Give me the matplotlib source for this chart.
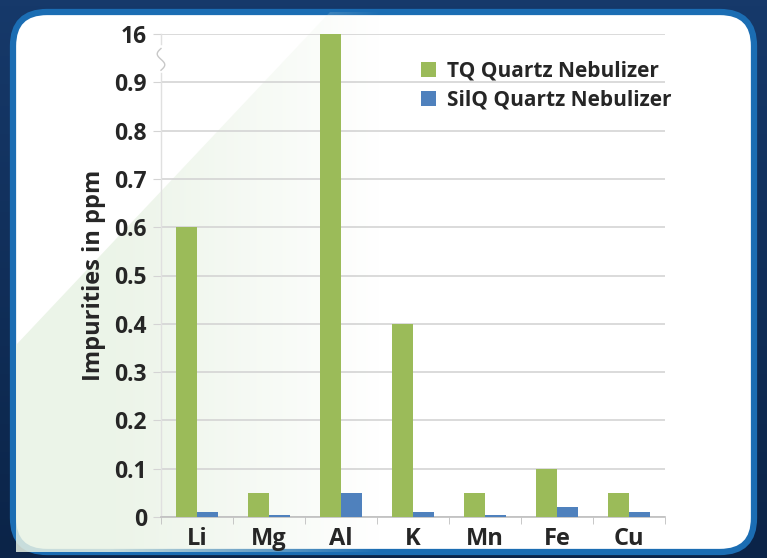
import numpy as np
import matplotlib
matplotlib.use("Agg")
import matplotlib.pyplot as plt
from matplotlib.patches import FancyBboxPatch, Polygon
from matplotlib.transforms import IdentityTransform

categories = ["Li", "Mg", "Al", "K", "Mn", "Fe", "Cu"]
tq_values = [0.6, 0.05, 16, 0.4, 0.05, 0.1, 0.05]
silq_values = [0.01, 0.005, 0.05, 0.01, 0.005, 0.02, 0.01]
series_names = ["TQ Quartz Nebulizer", "SilQ Quartz Nebulizer"]
ytick_values = [0, 0.1, 0.2, 0.3, 0.4, 0.5, 0.6, 0.7, 0.8, 0.9, 1.0]
ytick_labels = ["0", "0.1", "0.2", "0.3", "0.4", "0.5", "0.6", "0.7", "0.8", "0.9", "16"]
break_value = 1.0  # values above this are drawn at the break (labelled 16)

GREEN = "#9bbb59"
BLUE = "#4f81bd"
FONT = ["Open Sans", "DejaVu Sans"]
plt.rcParams["font.family"] = FONT

W, H = 767, 558
fig = plt.figure(figsize=(W / 100, H / 100), dpi=100)
fig.patch.set_facecolor("#0f2d55")

# background gradient (dark navy)
bg = fig.add_axes([0, 0, 1, 1], zorder=-3)
bg.axis("off")
gy = np.linspace(0, 1, 100)[:, None] * np.ones((1, 10))
bg.imshow(gy, cmap=matplotlib.colors.LinearSegmentedColormap.from_list("n", ["#16396a", "#0b2448"]),
          aspect="auto", extent=[0, 1, 0, 1], origin="upper")
bg.set_xlim(0, 1); bg.set_ylim(0, 1)

# white rounded panel with blue border (pixel coordinates)
panel = FancyBboxPatch((13, 6), W - 26, H - 18, boxstyle="round,pad=0,rounding_size=34",
                       transform=IdentityTransform(), facecolor="white",
                       edgecolor="#1b6db3", linewidth=4.5, zorder=-2)
fig.add_artist(panel)

# light green diagonal tint fading to the right
tint_ax = fig.add_axes([0, 0, 1, 1], zorder=-1)
tint_ax.axis("off")
tint_ax.set_xlim(0, W); tint_ax.set_ylim(H, 0)
xx, yy = np.meshgrid(np.arange(W), np.arange(H))
alpha = np.clip(1 - (xx - 110) / 270.0, 0, 1) * 0.85
rgba = np.zeros((H, W, 4))
rgba[..., 0] = 232 / 255; rgba[..., 1] = 242 / 255; rgba[..., 2] = 228 / 255
rgba[..., 3] = alpha
im = tint_ax.imshow(rgba, extent=[0, W, H, 0], aspect="auto", interpolation="bilinear")
clip = Polygon([(16, 552), (16, 345), (330, 12), (760, 12), (760, 552)], closed=True,
               transform=tint_ax.transData, facecolor="none", edgecolor="none")
tint_ax.add_patch(clip)
im.set_clip_path(clip)

# main chart
ax = fig.add_axes([161 / W, (H - 517) / H, (665 - 161) / W, (517 - 34) / H], zorder=1)
ax.patch.set_alpha(0)
x = np.arange(len(categories))
w = 0.29
tq_plot = [min(v, break_value) for v in tq_values]
silq_plot = [min(v, break_value) for v in silq_values]
ax.bar(x - w / 2, tq_plot, width=w, color=GREEN, label=series_names[0], zorder=3)
ax.bar(x + w / 2, silq_plot, width=w, color=BLUE, label=series_names[1], zorder=3)

ax.set_xlim(-0.5, len(categories) - 0.5)
ax.set_ylim(0, 1.0)
ax.set_yticks(ytick_values)
ax.set_yticklabels(ytick_labels)
ax.yaxis.grid(True, color="#d4d4d4", linewidth=1.2, zorder=0)
ax.set_axisbelow(True)
ax.set_xticks(x)
ax.set_xticklabels(categories)
ax.set_xticks(np.arange(-0.5, len(categories), 1), minor=True)
ax.tick_params(axis="x", which="major", length=0, pad=7, labelsize=17)
ax.tick_params(axis="x", which="minor", length=5, color="#bfbfbf", direction="out")
ax.tick_params(axis="y", which="major", length=6, color="#d4d4d4", pad=4, labelsize=16.5)
for lab in ax.get_xticklabels() + ax.get_yticklabels():
    lab.set_fontweight("bold")
    lab.set_color("#262626")

for s in ["top", "right"]:
    ax.spines[s].set_visible(False)
ax.spines["bottom"].set_color("#bfbfbf")
ax.spines["bottom"].set_linewidth(1.2)
ax.spines["left"].set_color("#e0e0e0")
ax.spines["left"].set_linewidth(1.0)

# axis break squiggle on the y axis
t = np.linspace(0, 1, 40)
ax.plot(np.zeros_like(t), 0.925 + 0.045 * t, color="white", lw=4, transform=ax.get_yaxis_transform(),
        clip_on=False, zorder=4)
ax.plot(0.0025 * np.sin(t * 2 * np.pi) * 3, 0.925 + 0.045 * t, color="#c8c8c8", lw=1,
        transform=ax.transAxes, clip_on=False, zorder=5)

ax.set_ylabel("Impurities in ppm", fontsize=17, fontweight="bold", color="#262626", labelpad=6)

leg = ax.legend(loc="upper left", bbox_to_anchor=(0.515, 0.945), frameon=False, fontsize=15,
                handlelength=0.75, handleheight=0.75, handletextpad=0.5, labelspacing=0.38,
                borderaxespad=0, borderpad=0)
for txt in leg.get_texts():
    txt.set_fontweight("bold")
    txt.set_color("#262626")

fig.savefig("out.png", dpi=100, facecolor=fig.get_facecolor())
